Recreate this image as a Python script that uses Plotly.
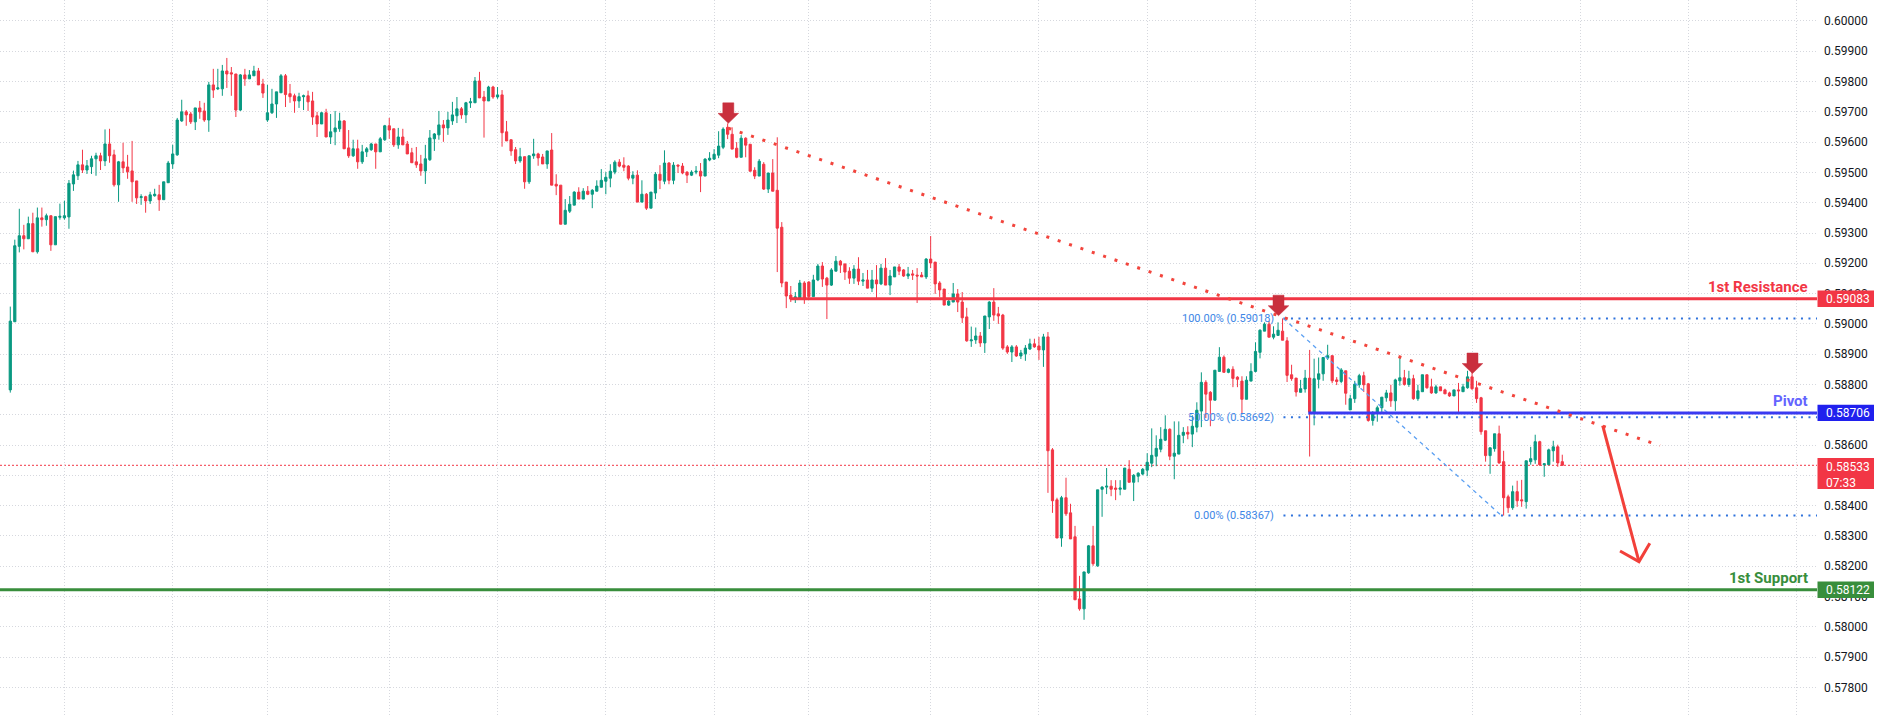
import plotly.graph_objects as go

# ---------------- candle data (hourly bars, oldest first) ----------------
opens = [
    0.58782, 0.59007, 0.59256, 0.59291, 0.59281, 0.59331, 0.59238, 0.59350, 0.59344, 0.59357,
    0.59261, 0.59352, 0.59350, 0.59353, 0.59462, 0.59489, 0.59525, 0.59508, 0.59519, 0.59545,
    0.59555, 0.59538, 0.59594, 0.59558, 0.59459, 0.59535, 0.59518, 0.59505, 0.59472, 0.59417,
    0.59420, 0.59406, 0.59423, 0.59426, 0.59410, 0.59466, 0.59528, 0.59558, 0.59670, 0.59700,
    0.59693, 0.59667, 0.59713, 0.59703, 0.59673, 0.59789, 0.59776, 0.59776, 0.59835, 0.59829,
    0.59825, 0.59706, 0.59822, 0.59809, 0.59819, 0.59835, 0.59792, 0.59673, 0.59697, 0.59726,
    0.59763, 0.59819, 0.59760, 0.59753, 0.59736, 0.59750, 0.59753, 0.59736, 0.59687, 0.59660,
    0.59697, 0.59617, 0.59634, 0.59644, 0.59670, 0.59581, 0.59555, 0.59578, 0.59535, 0.59568,
    0.59575, 0.59594, 0.59568, 0.59608, 0.59654, 0.59644, 0.59591, 0.59617, 0.59594, 0.59565,
    0.59535, 0.59528, 0.59505, 0.59542, 0.59611, 0.59624, 0.59657, 0.59647, 0.59670, 0.59687,
    0.59710, 0.59690, 0.59730, 0.59730, 0.59802, 0.59749, 0.59736, 0.59782, 0.59749, 0.59756,
    0.59634, 0.59608, 0.59575, 0.59538, 0.59552, 0.59469, 0.59555, 0.59561, 0.59551, 0.59528,
    0.59574, 0.59461, 0.59458, 0.59329, 0.59372, 0.59392, 0.59435, 0.59412, 0.59438, 0.59428,
    0.59438, 0.59451, 0.59471, 0.59481, 0.59501, 0.59534, 0.59524, 0.59521, 0.59481, 0.59491,
    0.59402, 0.59428, 0.59382, 0.59432, 0.59494, 0.59471, 0.59531, 0.59474, 0.59524, 0.59521,
    0.59501, 0.59491, 0.59501, 0.59504, 0.59488, 0.59541, 0.59544, 0.59557, 0.59583, 0.59649,
    0.59626, 0.59580, 0.59550, 0.59613, 0.59593, 0.59507, 0.59488, 0.59527, 0.59445, 0.59498,
    0.59441, 0.59319, 0.59138, 0.59095, 0.59085, 0.59085, 0.59135, 0.59138, 0.59090, 0.59145,
    0.59191, 0.59151, 0.59128, 0.59174, 0.59207, 0.59198, 0.59174, 0.59151, 0.59181, 0.59141,
    0.59145, 0.59118, 0.59145, 0.59132, 0.59184, 0.59128, 0.59155, 0.59188, 0.59178, 0.59158,
    0.59165, 0.59161, 0.59161, 0.59155, 0.59214, 0.59204, 0.59135, 0.59115, 0.59062, 0.59072,
    0.59099, 0.59072, 0.59023, 0.58944, 0.58947, 0.58960, 0.58937, 0.59023, 0.59072, 0.59033,
    0.59029, 0.58924, 0.58907, 0.58924, 0.58894, 0.58901, 0.58917, 0.58934, 0.58927, 0.58914,
    0.58957, 0.58584, 0.58419, 0.58293, 0.58426, 0.58376, 0.58297, 0.58092, 0.58059, 0.58178,
    0.58267, 0.58201, 0.58454, 0.58461, 0.58464, 0.58458, 0.58454, 0.58454, 0.58520, 0.58477,
    0.58497, 0.58504, 0.58517, 0.58540, 0.58563, 0.58586, 0.58616, 0.58652, 0.58563, 0.58570,
    0.58632, 0.58642, 0.58636, 0.58659, 0.58712, 0.58807, 0.58774, 0.58748, 0.58843, 0.58890,
    0.58840, 0.58850, 0.58824, 0.58811, 0.58751, 0.58811, 0.58843, 0.58906, 0.58976, 0.58999,
    0.58956, 0.58962, 0.58976, 0.58944, 0.58832, 0.58821, 0.58774, 0.58785, 0.58821, 0.58709,
    0.58817, 0.58835, 0.58887, 0.58895, 0.58815, 0.58810, 0.58845, 0.58716, 0.58753, 0.58799,
    0.58829, 0.58802, 0.58681, 0.58705, 0.58723, 0.58756, 0.58772, 0.58746, 0.58812, 0.58822,
    0.58800, 0.58819, 0.58753, 0.58776, 0.58832, 0.58792, 0.58772, 0.58792, 0.58782, 0.58772,
    0.58762, 0.58782, 0.58776, 0.58789, 0.58825, 0.58789, 0.58756, 0.58647, 0.58565, 0.58588,
    0.58637, 0.58545, 0.58429, 0.58393, 0.58446, 0.58419, 0.58413, 0.58545, 0.58551, 0.58611,
    0.58535, 0.58535, 0.58581, 0.58594, 0.58545,
]

highs = [
    0.59057, 0.59278, 0.59380, 0.59327, 0.59354, 0.59367, 0.59384, 0.59384, 0.59364, 0.59357,
    0.59354, 0.59397, 0.59407, 0.59475, 0.59506, 0.59538, 0.59575, 0.59541, 0.59555, 0.59565,
    0.59565, 0.59642, 0.59644, 0.59575, 0.59538, 0.59598, 0.59558, 0.59604, 0.59472, 0.59428,
    0.59423, 0.59436, 0.59446, 0.59459, 0.59469, 0.59538, 0.59591, 0.59680, 0.59740, 0.59706,
    0.59700, 0.59713, 0.59736, 0.59730, 0.59799, 0.59842, 0.59842, 0.59855, 0.59878, 0.59848,
    0.59825, 0.59825, 0.59842, 0.59838, 0.59852, 0.59845, 0.59809, 0.59789, 0.59776, 0.59766,
    0.59825, 0.59825, 0.59792, 0.59760, 0.59763, 0.59757, 0.59770, 0.59766, 0.59700, 0.59700,
    0.59710, 0.59693, 0.59703, 0.59697, 0.59673, 0.59640, 0.59608, 0.59608, 0.59591, 0.59584,
    0.59598, 0.59594, 0.59617, 0.59657, 0.59680, 0.59644, 0.59647, 0.59644, 0.59604, 0.59581,
    0.59584, 0.59558, 0.59591, 0.59640, 0.59630, 0.59703, 0.59673, 0.59700, 0.59733, 0.59749,
    0.59716, 0.59733, 0.59746, 0.59815, 0.59832, 0.59769, 0.59786, 0.59786, 0.59782, 0.59772,
    0.59670, 0.59608, 0.59584, 0.59581, 0.59552, 0.59555, 0.59611, 0.59565, 0.59561, 0.59571,
    0.59630, 0.59494, 0.59458, 0.59412, 0.59422, 0.59438, 0.59451, 0.59448, 0.59455, 0.59445,
    0.59474, 0.59511, 0.59501, 0.59527, 0.59540, 0.59544, 0.59550, 0.59524, 0.59504, 0.59507,
    0.59474, 0.59432, 0.59435, 0.59501, 0.59524, 0.59573, 0.59534, 0.59534, 0.59527, 0.59531,
    0.59504, 0.59507, 0.59521, 0.59531, 0.59547, 0.59567, 0.59577, 0.59636, 0.59649, 0.59662,
    0.59649, 0.59600, 0.59623, 0.59616, 0.59593, 0.59517, 0.59544, 0.59534, 0.59498, 0.59544,
    0.59616, 0.59336, 0.59138, 0.59125, 0.59105, 0.59145, 0.59141, 0.59141, 0.59162, 0.59198,
    0.59204, 0.59155, 0.59184, 0.59224, 0.59211, 0.59198, 0.59187, 0.59194, 0.59220, 0.59168,
    0.59178, 0.59178, 0.59194, 0.59198, 0.59217, 0.59178, 0.59188, 0.59198, 0.59181, 0.59188,
    0.59178, 0.59184, 0.59171, 0.59217, 0.59290, 0.59204, 0.59141, 0.59115, 0.59079, 0.59135,
    0.59115, 0.59105, 0.59053, 0.58991, 0.58988, 0.58973, 0.59026, 0.59075, 0.59118, 0.59056,
    0.59033, 0.58930, 0.58930, 0.58930, 0.58914, 0.58930, 0.58951, 0.58951, 0.58957, 0.58967,
    0.58973, 0.58590, 0.58426, 0.58432, 0.58492, 0.58406, 0.58333, 0.58168, 0.58181, 0.58270,
    0.58333, 0.58452, 0.58464, 0.58524, 0.58484, 0.58484, 0.58484, 0.58524, 0.58550, 0.58504,
    0.58510, 0.58524, 0.58573, 0.58655, 0.58632, 0.58659, 0.58698, 0.58655, 0.58678, 0.58678,
    0.58659, 0.58662, 0.58698, 0.58741, 0.58840, 0.58814, 0.58778, 0.58847, 0.58923, 0.58896,
    0.58853, 0.58860, 0.58827, 0.58827, 0.58827, 0.58870, 0.58939, 0.58982, 0.59005, 0.59009,
    0.58992, 0.59005, 0.59018, 0.58956, 0.58865, 0.58821, 0.58815, 0.58848, 0.58914, 0.58885,
    0.58889, 0.58889, 0.58931, 0.58895, 0.58824, 0.58854, 0.58845, 0.58766, 0.58812, 0.58835,
    0.58842, 0.58805, 0.58712, 0.58730, 0.58758, 0.58782, 0.58799, 0.58819, 0.58888, 0.58848,
    0.58845, 0.58832, 0.58799, 0.58832, 0.58832, 0.58819, 0.58799, 0.58792, 0.58786, 0.58776,
    0.58782, 0.58805, 0.58802, 0.58845, 0.58855, 0.58812, 0.58759, 0.58647, 0.58591, 0.58637,
    0.58664, 0.58581, 0.58436, 0.58466, 0.58482, 0.58485, 0.58548, 0.58594, 0.58634, 0.58614,
    0.58538, 0.58588, 0.58614, 0.58601, 0.58568,
]

lows = [
    0.58773, 0.59007, 0.59236, 0.59246, 0.59280, 0.59237, 0.59232, 0.59321, 0.59324, 0.59241,
    0.59261, 0.59344, 0.59344, 0.59314, 0.59439, 0.59475, 0.59498, 0.59495, 0.59495, 0.59489,
    0.59508, 0.59521, 0.59532, 0.59453, 0.59403, 0.59498, 0.59479, 0.59403, 0.59396, 0.59393,
    0.59367, 0.59396, 0.59420, 0.59373, 0.59410, 0.59466, 0.59512, 0.59555, 0.59667, 0.59654,
    0.59660, 0.59640, 0.59677, 0.59667, 0.59634, 0.59746, 0.59772, 0.59753, 0.59779, 0.59753,
    0.59683, 0.59703, 0.59786, 0.59809, 0.59819, 0.59789, 0.59746, 0.59667, 0.59693, 0.59680,
    0.59763, 0.59716, 0.59730, 0.59697, 0.59713, 0.59706, 0.59703, 0.59657, 0.59617, 0.59660,
    0.59617, 0.59594, 0.59590, 0.59634, 0.59578, 0.59548, 0.59551, 0.59512, 0.59528, 0.59551,
    0.59571, 0.59512, 0.59568, 0.59604, 0.59611, 0.59584, 0.59578, 0.59591, 0.59561, 0.59532,
    0.59515, 0.59489, 0.59462, 0.59538, 0.59571, 0.59608, 0.59601, 0.59624, 0.59657, 0.59663,
    0.59677, 0.59663, 0.59713, 0.59730, 0.59746, 0.59615, 0.59736, 0.59743, 0.59743, 0.59585,
    0.59604, 0.59555, 0.59528, 0.59532, 0.59446, 0.59462, 0.59545, 0.59522, 0.59528, 0.59512,
    0.59458, 0.59425, 0.59329, 0.59329, 0.59366, 0.59392, 0.59412, 0.59412, 0.59425, 0.59382,
    0.59438, 0.59451, 0.59428, 0.59451, 0.59494, 0.59517, 0.59504, 0.59474, 0.59461, 0.59402,
    0.59402, 0.59376, 0.59382, 0.59412, 0.59445, 0.59461, 0.59461, 0.59461, 0.59498, 0.59494,
    0.59465, 0.59488, 0.59494, 0.59435, 0.59488, 0.59537, 0.59541, 0.59547, 0.59577, 0.59610,
    0.59577, 0.59547, 0.59550, 0.59550, 0.59504, 0.59478, 0.59488, 0.59442, 0.59432, 0.59438,
    0.59171, 0.59121, 0.59052, 0.59072, 0.59069, 0.59082, 0.59066, 0.59085, 0.59090, 0.59141,
    0.59122, 0.59016, 0.59125, 0.59174, 0.59168, 0.59145, 0.59132, 0.59132, 0.59128, 0.59125,
    0.59118, 0.59105, 0.59085, 0.59128, 0.59128, 0.59095, 0.59155, 0.59161, 0.59155, 0.59148,
    0.59145, 0.59069, 0.59155, 0.59148, 0.59184, 0.59099, 0.59089, 0.59062, 0.59059, 0.59072,
    0.59039, 0.59003, 0.58941, 0.58924, 0.58934, 0.58924, 0.58904, 0.58983, 0.59010, 0.59000,
    0.58914, 0.58901, 0.58874, 0.58891, 0.58884, 0.58878, 0.58914, 0.58921, 0.58881, 0.58858,
    0.58442, 0.58376, 0.58293, 0.58264, 0.58366, 0.58290, 0.58089, 0.58053, 0.58023, 0.58175,
    0.58201, 0.58198, 0.58363, 0.58438, 0.58431, 0.58418, 0.58434, 0.58454, 0.58477, 0.58415,
    0.58477, 0.58500, 0.58497, 0.58527, 0.58530, 0.58576, 0.58613, 0.58550, 0.58487, 0.58570,
    0.58606, 0.58619, 0.58593, 0.58642, 0.58659, 0.58689, 0.58662, 0.58748, 0.58843, 0.58840,
    0.58837, 0.58791, 0.58791, 0.58705, 0.58751, 0.58811, 0.58840, 0.58886, 0.58976, 0.58956,
    0.58949, 0.58962, 0.58946, 0.58808, 0.58812, 0.58760, 0.58774, 0.58773, 0.58562, 0.58665,
    0.58787, 0.58812, 0.58881, 0.58804, 0.58798, 0.58804, 0.58733, 0.58716, 0.58739, 0.58789,
    0.58775, 0.58677, 0.58664, 0.58677, 0.58705, 0.58743, 0.58726, 0.58713, 0.58796, 0.58796,
    0.58792, 0.58749, 0.58746, 0.58776, 0.58786, 0.58769, 0.58769, 0.58779, 0.58769, 0.58759,
    0.58762, 0.58706, 0.58776, 0.58786, 0.58782, 0.58739, 0.58634, 0.58545, 0.58505, 0.58578,
    0.58538, 0.58367, 0.58376, 0.58386, 0.58396, 0.58396, 0.58390, 0.58535, 0.58538, 0.58531,
    0.58495, 0.58535, 0.58545, 0.58528, 0.58532,
]

closes = [
    0.59009, 0.59258, 0.59291, 0.59281, 0.59331, 0.59238, 0.59350, 0.59344, 0.59357, 0.59261,
    0.59354, 0.59355, 0.59357, 0.59464, 0.59492, 0.59525, 0.59508, 0.59522, 0.59545, 0.59555,
    0.59538, 0.59594, 0.59555, 0.59459, 0.59535, 0.59515, 0.59502, 0.59469, 0.59416, 0.59420,
    0.59406, 0.59426, 0.59428, 0.59410, 0.59469, 0.59531, 0.59561, 0.59673, 0.59700, 0.59690,
    0.59667, 0.59713, 0.59700, 0.59673, 0.59789, 0.59772, 0.59779, 0.59835, 0.59825, 0.59825,
    0.59706, 0.59822, 0.59809, 0.59822, 0.59835, 0.59789, 0.59762, 0.59697, 0.59726, 0.59766,
    0.59819, 0.59757, 0.59750, 0.59736, 0.59750, 0.59753, 0.59733, 0.59683, 0.59660, 0.59697,
    0.59617, 0.59634, 0.59647, 0.59670, 0.59578, 0.59555, 0.59578, 0.59535, 0.59568, 0.59578,
    0.59594, 0.59568, 0.59611, 0.59654, 0.59640, 0.59591, 0.59617, 0.59591, 0.59561, 0.59532,
    0.59525, 0.59505, 0.59545, 0.59614, 0.59627, 0.59657, 0.59647, 0.59673, 0.59690, 0.59710,
    0.59690, 0.59730, 0.59733, 0.59802, 0.59746, 0.59736, 0.59782, 0.59749, 0.59756, 0.59631,
    0.59604, 0.59571, 0.59538, 0.59552, 0.59469, 0.59555, 0.59561, 0.59548, 0.59528, 0.59571,
    0.59458, 0.59455, 0.59329, 0.59375, 0.59395, 0.59435, 0.59412, 0.59438, 0.59428, 0.59441,
    0.59455, 0.59474, 0.59484, 0.59504, 0.59534, 0.59521, 0.59517, 0.59481, 0.59491, 0.59402,
    0.59428, 0.59382, 0.59435, 0.59494, 0.59474, 0.59531, 0.59474, 0.59524, 0.59521, 0.59498,
    0.59491, 0.59501, 0.59504, 0.59488, 0.59544, 0.59547, 0.59560, 0.59587, 0.59643, 0.59626,
    0.59577, 0.59550, 0.59613, 0.59590, 0.59504, 0.59488, 0.59537, 0.59445, 0.59498, 0.59438,
    0.59316, 0.59135, 0.59092, 0.59082, 0.59089, 0.59135, 0.59085, 0.59090, 0.59145, 0.59191,
    0.59148, 0.59128, 0.59178, 0.59207, 0.59194, 0.59171, 0.59151, 0.59181, 0.59141, 0.59145,
    0.59118, 0.59145, 0.59132, 0.59184, 0.59128, 0.59158, 0.59188, 0.59174, 0.59158, 0.59165,
    0.59161, 0.59158, 0.59155, 0.59214, 0.59201, 0.59132, 0.59112, 0.59062, 0.59075, 0.59099,
    0.59072, 0.59020, 0.58944, 0.58947, 0.58960, 0.58937, 0.59026, 0.59072, 0.59029, 0.59026,
    0.58920, 0.58907, 0.58924, 0.58894, 0.58904, 0.58920, 0.58934, 0.58924, 0.58914, 0.58957,
    0.58581, 0.58416, 0.58293, 0.58426, 0.58373, 0.58290, 0.58089, 0.58059, 0.58181, 0.58267,
    0.58208, 0.58452, 0.58461, 0.58464, 0.58454, 0.58454, 0.58458, 0.58524, 0.58477, 0.58500,
    0.58507, 0.58520, 0.58543, 0.58566, 0.58589, 0.58619, 0.58652, 0.58563, 0.58573, 0.58632,
    0.58642, 0.58636, 0.58662, 0.58715, 0.58807, 0.58768, 0.58748, 0.58847, 0.58890, 0.58840,
    0.58850, 0.58820, 0.58817, 0.58751, 0.58814, 0.58843, 0.58909, 0.58979, 0.58999, 0.58956,
    0.58966, 0.58979, 0.58946, 0.58830, 0.58819, 0.58775, 0.58786, 0.58821, 0.58709, 0.58819,
    0.58835, 0.58889, 0.58895, 0.58812, 0.58810, 0.58848, 0.58771, 0.58753, 0.58801, 0.58829,
    0.58799, 0.58681, 0.58705, 0.58723, 0.58758, 0.58772, 0.58746, 0.58815, 0.58822, 0.58800,
    0.58819, 0.58753, 0.58779, 0.58832, 0.58789, 0.58772, 0.58792, 0.58779, 0.58769, 0.58762,
    0.58782, 0.58779, 0.58792, 0.58825, 0.58786, 0.58753, 0.58644, 0.58565, 0.58591, 0.58637,
    0.58541, 0.58426, 0.58393, 0.58446, 0.58416, 0.58416, 0.58548, 0.58555, 0.58611, 0.58535,
    0.58538, 0.58584, 0.58594, 0.58541, 0.58533,
]

assert len(opens) == len(highs) == len(lows) == len(closes), (len(opens), len(highs), len(lows), len(closes))

# ---------------- price scale ----------------
PRICE_TICKS = [0.578, 0.579, 0.580, 0.581, 0.582, 0.583, 0.584, 0.585, 0.586, 0.587, 0.588,
               0.589, 0.590, 0.591, 0.592, 0.593, 0.594, 0.595, 0.596, 0.597, 0.598, 0.599, 0.600]
HIDDEN_TICKS = [0.585, 0.587]   # fully covered by the price boxes on the scale

# ---------------- levels and drawings ----------------
RESISTANCE = 0.59083
PIVOT = 0.58706
SUPPORT = 0.58122
LAST_PRICE = 0.58533
LAST_TIME = "07:33"
FIB_LEVELS = [("100.00%", 0.59018), ("50.00%", 0.58692), ("0.00%", 0.58367)]
FIB_START_BAR = 282.2
FIB_END_BAR = 330.5
RES_START_BAR = 172.8
PIVOT_START_BAR = 287.7
TREND_POINTS = [(159.15, 0.59646), (365.65, 0.58598)]
ARROW_MARKS = [(159.15, 0.59662), (281.1, 0.59027), (324.1, 0.58836)]
FORECAST_ARROW = [(352.96, 0.58664), (361.0, 0.58215)]
FORECAST_HEAD = [(356.8, 0.58250), (361.0, 0.58215), (363.4, 0.58276)]
TIME_GRID_BARS = [12, 36, 57, 84, 108, 132, 156, 177, 204, 228, 252, 276, 297, 324, 348, 372, 396]

X_RANGE = [-2.28, 400.46]
Y_RANGE = [0.57702, 0.600693]

UP = "#089981"
DOWN = "#F23645"
RED_LINE = "#F23645"
BLUE_LINE = "#3a3af2"
BLUE_BOX = "#2020ee"
BLUE_TEXT = "#6464ff"
GREEN_LINE = "#388e3c"
FIB_BLUE = "#2f72dc"
FIB_TEXT = "#3d86e6"
GRID = "#d6d8de"
FONT = "Roboto, 'Liberation Sans', Arial, sans-serif"

idx = list(range(len(closes)))

fig = go.Figure(go.Candlestick(
    x=idx, open=opens, high=highs, low=lows, close=closes,
    increasing=dict(line=dict(color=UP, width=1), fillcolor=UP),
    decreasing=dict(line=dict(color=DOWN, width=1), fillcolor=DOWN),
    hoverinfo="skip", showlegend=False,
))

shapes = []
# current price dotted line
shapes.append(dict(type="line", xref="paper", x0=0, x1=1, yref="y", y0=LAST_PRICE, y1=LAST_PRICE,
                   line=dict(color=RED_LINE, width=1, dash="2px,2px"), layer="below"))
# fib levels
for _, lv in FIB_LEVELS:
    shapes.append(dict(type="line", xref="x", x0=FIB_START_BAR, x1=X_RANGE[1], yref="y", y0=lv, y1=lv,
                       line=dict(color=FIB_BLUE, width=2, dash="2px,5.5px")))
shapes.append(dict(type="line", xref="x", yref="y",
                   x0=FIB_START_BAR, y0=FIB_LEVELS[0][1], x1=FIB_END_BAR, y1=FIB_LEVELS[2][1],
                   line=dict(color="#5a9ff2", width=1.3, dash="4px,4px")))
# horizontal levels
shapes.append(dict(type="line", xref="x", x0=RES_START_BAR, x1=X_RANGE[1], yref="y", y0=RESISTANCE, y1=RESISTANCE,
                   line=dict(color=RED_LINE, width=3)))
shapes.append(dict(type="line", xref="x", x0=PIVOT_START_BAR, x1=X_RANGE[1], yref="y", y0=PIVOT, y1=PIVOT,
                   line=dict(color=BLUE_LINE, width=3)))
shapes.append(dict(type="line", xref="paper", x0=0, x1=1, yref="y", y0=SUPPORT, y1=SUPPORT,
                   line=dict(color=GREEN_LINE, width=3)))
# descending trendline (dotted)
shapes.append(dict(type="line", xref="x", yref="y",
                   x0=TREND_POINTS[0][0], y0=TREND_POINTS[0][1], x1=TREND_POINTS[1][0], y1=TREND_POINTS[1][1],
                   line=dict(color="#f2453d", width=3, dash="3px,9px")))
# forecast arrow
shapes.append(dict(type="line", xref="x", yref="y",
                   x0=FORECAST_ARROW[0][0], y0=FORECAST_ARROW[0][1], x1=FORECAST_ARROW[1][0], y1=FORECAST_ARROW[1][1],
                   line=dict(color="#f2403a", width=3)))
head_path = "M {} {} L {} {} L {} {}".format(FORECAST_HEAD[0][0], FORECAST_HEAD[0][1],
                                            FORECAST_HEAD[1][0], FORECAST_HEAD[1][1],
                                            FORECAST_HEAD[2][0], FORECAST_HEAD[2][1])
shapes.append(dict(type="path", xref="x", yref="y", path=head_path, line=dict(color="#f2403a", width=3)))
# down-arrow markers (fixed pixel size, anchored at the highs)
arrow_path = "M0,0 L-10.3,10 L-5.5,10 L-5.5,20.5 L5.5,20.5 L5.5,10 L10.3,10 Z"
for bx, py in ARROW_MARKS:
    shapes.append(dict(type="path", xref="x", yref="y", xsizemode="pixel", ysizemode="pixel",
                       xanchor=bx, yanchor=py, path=arrow_path,
                       fillcolor="#c92f3d", line=dict(color="#c92f3d", width=0.5)))

# price-scale label boxes
def price_box(price, color, top=8.2, bottom=-8.2):
    return dict(type="rect", xref="paper", yref="y", xsizemode="pixel", ysizemode="pixel",
                xanchor=1, yanchor=price, x0=0.5, x1=57, y0=bottom, y1=top,
                fillcolor=color, line=dict(width=0), layer="above")

shapes.append(price_box(RESISTANCE, RED_LINE))
shapes.append(price_box(PIVOT, BLUE_BOX))
shapes.append(price_box(LAST_PRICE, RED_LINE, top=7.2, bottom=-23.6))
shapes.append(price_box(SUPPORT, GREEN_LINE))

annotations = []
for price in (RESISTANCE, PIVOT, SUPPORT):
    annotations.append(dict(xref="paper", x=1, xanchor="left", xshift=7, yref="y", y=price, yanchor="middle",
                            text=f"{price:.5f}", showarrow=False, align="left",
                            font=dict(family=FONT, size=12, color="white")))
annotations.append(dict(xref="paper", x=1, xanchor="left", xshift=7, yref="y", y=LAST_PRICE, yanchor="top",
                        yshift=7, text=f"{LAST_PRICE:.5f}<br>{LAST_TIME}", showarrow=False, align="left",
                        font=dict(family=FONT, size=12, color="white")))
for txt, price, col in (("1st Resistance", RESISTANCE, RED_LINE), ("Pivot", PIVOT, BLUE_TEXT),
                        ("1st Support", SUPPORT, GREEN_LINE)):
    annotations.append(dict(xref="paper", x=1, xanchor="right", xshift=-7, yref="y", y=price, yanchor="bottom",
                            yshift=1, text=f"<b>{txt}</b>", showarrow=False,
                            font=dict(family=FONT, size=15, color=col)))
for name, lv in FIB_LEVELS:
    annotations.append(dict(xref="x", x=FIB_START_BAR, xanchor="right", xshift=-7, yref="y", y=lv,
                            yanchor="middle", text=f"{name} ({lv:.5f})", showarrow=False,
                            font=dict(family=FONT, size=11, color=FIB_TEXT)))

tick_text = ["" if any(abs(t - h) < 1e-9 for h in HIDDEN_TICKS) else f"{t:.5f}" for t in PRICE_TICKS]

fig.update_layout(
    template="none",
    width=1881, height=717,
    margin=dict(l=0, r=64, t=0, b=0),
    paper_bgcolor="white", plot_bgcolor="white",
    showlegend=False,
    shapes=shapes, annotations=annotations,
    xaxis=dict(range=X_RANGE, rangeslider=dict(visible=False), showticklabels=False,
               tickmode="array", tickvals=TIME_GRID_BARS, ticks="",
               showgrid=True, gridcolor=GRID, gridwidth=1, griddash="1px,2px",
               zeroline=False, showline=False, automargin=False, fixedrange=True),
    yaxis=dict(range=Y_RANGE, side="right", tickmode="array", tickvals=PRICE_TICKS, ticktext=tick_text,
               ticks="", ticklabelstandoff=6,
               showgrid=True, gridcolor=GRID, gridwidth=1, griddash="1px,2px",
               zeroline=False, showline=False, automargin=False, fixedrange=True,
               tickfont=dict(family=FONT, size=12, color="#131722")),
)

fig.write_html("out.html", config={"displayModeBar": False},
               post_script="document.body.style.margin='0';document.body.style.overflow='hidden';")
